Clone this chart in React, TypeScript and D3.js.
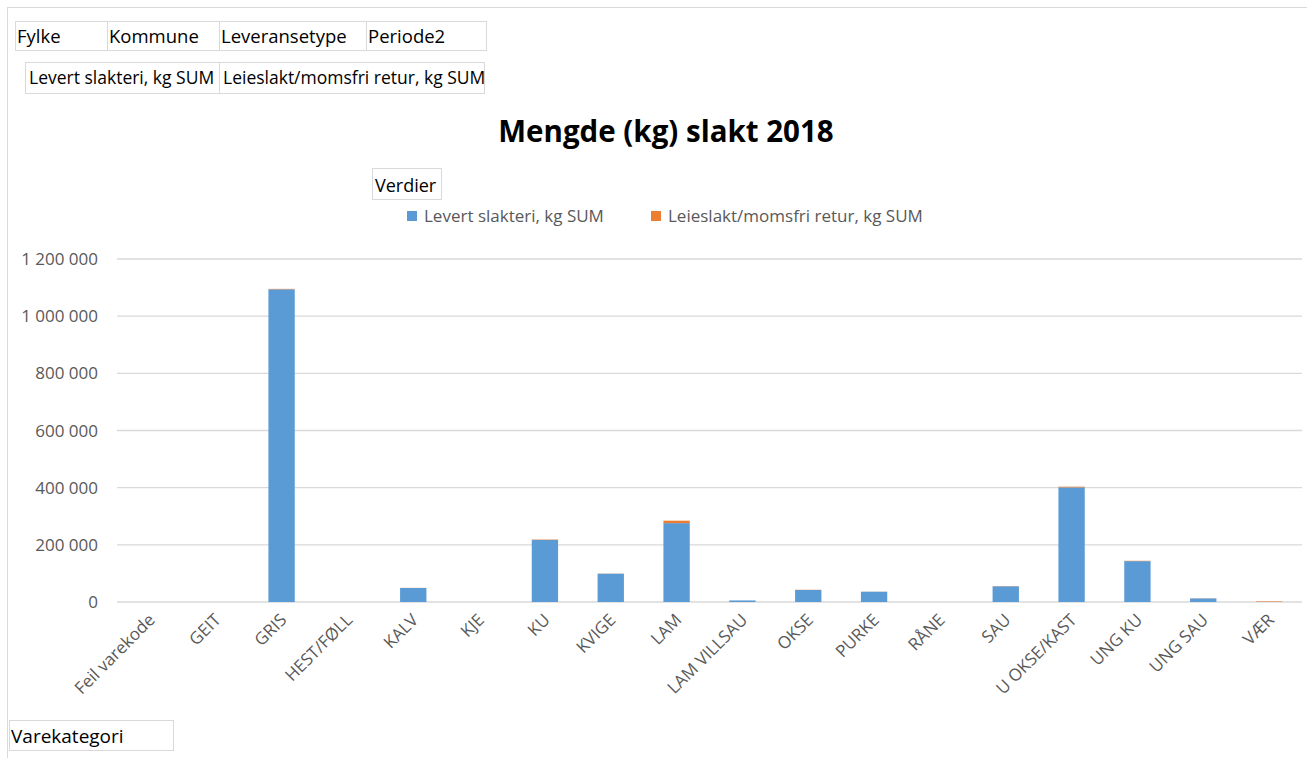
import React from "react";
import * as d3 from "d3";

// Product categories on the x axis
const categories = [
  "Feil varekode", "GEIT", "GRIS", "HEST/FØLL", "KALV", "KJE", "KU", "KVIGE", "LAM",
  "LAM VILLSAU", "OKSE", "PURKE", "RÅNE", "SAU", "U OKSE/KAST", "UNG KU", "UNG SAU", "VÆR",
];

// Delivered to slaughterhouse, kg
const levert = [
  0, 0, 1094000, 0, 49000, 0, 217000, 99000, 276000,
  5500, 42000, 36000, 0, 55000, 401000, 143000, 12500, 0,
];

// Contract slaughter / VAT-free return, kg
const leieslakt = [
  0, 0, 1500, 0, 500, 0, 1500, 500, 8500,
  0, 800, 300, 0, 800, 2500, 1200, 600, 1800,
];

const yTicks = [0, 200000, 400000, 600000, 800000, 1000000, 1200000];

const seriesNames = ["Levert slakteri, kg SUM", "Leieslakt/momsfri retur, kg SUM"];
const seriesColors = ["#5B9BD5", "#ED7D31"];

const filterFields = ["Fylke", "Kommune", "Leveransetype", "Periode2"];

const W = 1307;
const H = 758;
const FONT = "'Open Sans', 'Noto Sans', sans-serif";

export default function App() {
  const plot = { left: 117, right: 1302, top: 259, bottom: 602 };

  const x = d3.scaleBand<string>()
    .domain(categories)
    .range([plot.left, plot.right])
    .paddingInner(0.6)
    .paddingOuter(0.3);

  const y = d3.scaleLinear().domain([0, 1200000]).range([plot.bottom, plot.top]);

  const fmt = (v: number) => d3.format(",")(v).replace(/,/g, " ");

  const rows = categories.map((c, i) => ({ c, a: levert[i], b: leieslakt[i] }));
  const stack = d3.stack<{ c: string; a: number; b: number }>().keys(["a", "b"]);
  const layers = stack(rows as any);

  // field button edges
  const fieldX = [15, 107, 219, 366, 486];
  const valueX = [25, 219, 484];

  return (
    <svg
      width={W}
      height={H}
      style={{ position: "absolute", left: 0, top: 0, background: "#fff" }}
      fontFamily={FONT}
    >
      {/* chart area frame */}
      <rect x={7.5} y={7.5} width={W + 10} height={H + 10} fill="#fff" stroke="#d9d9d9" />

      {/* filter buttons */}
      {filterFields.map((f, i) => (
        <g key={f}>
          <rect x={fieldX[i] + 0.5} y={21.5} width={fieldX[i + 1] - fieldX[i]} height={29}
            fill="#fff" stroke="#d9d9d9" />
          <text x={fieldX[i] + 2} y={42.5} fontSize={18.5} fill="#000">{f}</text>
        </g>
      ))}
      {seriesNames.map((s, i) => (
        <g key={s}>
          <rect x={valueX[i] + 0.5} y={62.5} width={valueX[i + 1] - valueX[i]} height={31}
            fill="#fff" stroke="#d9d9d9" />
          <text x={valueX[i] + 4} y={84} fontSize={17.5} fill="#000">{s}</text>
        </g>
      ))}

      {/* title */}
      <text x={666} y={142} textAnchor="middle" fontSize={29.5} fontWeight="bold" fill="#000">
        Mengde (kg) slakt 2018
      </text>

      {/* values button */}
      <rect x={372.5} y={168.5} width={69} height={31} fill="#fff" stroke="#d9d9d9" />
      <text x={375} y={191.5} fontSize={18} fill="#000">Verdier</text>

      {/* legend */}
      {seriesNames.map((s, i) => {
        const lx = i === 0 ? 407 : 651;
        return (
          <g key={s}>
            <rect x={lx} y={211} width={10} height={10} fill={seriesColors[i]} />
            <text x={lx + 17} y={222} fontSize={17} fill="#595959">{s}</text>
          </g>
        );
      })}

      {/* gridlines and y labels */}
      {yTicks.map((t) => (
        <g key={t}>
          <line x1={plot.left} x2={plot.right} y1={y(t)} y2={y(t)} stroke="#d9d9d9" strokeWidth={1.3} />
          <text x={98} y={y(t) + 6} textAnchor="end" fontSize={17} fill="#595959">{fmt(t)}</text>
        </g>
      ))}

      {/* stacked bars */}
      {layers.map((layer, li) => (
        <g key={li} fill={seriesColors[li]}>
          {layer.map((d, i) => {
            const h = y(d[0]) - y(d[1]);
            if (h <= 0) return null;
            return (
              <rect key={i} x={x(categories[i])!} width={x.bandwidth()}
                y={y(d[1])} height={h} />
            );
          })}
        </g>
      ))}

      {/* x labels */}
      {categories.map((c) => {
        const cx = x(c)! + x.bandwidth() / 2;
        return (
          <text key={c} transform={`translate(${cx + 6},${621}) rotate(-45)`}
            textAnchor="end" fontSize={17} fill="#595959">{c}</text>
        );
      })}

      {/* axis field button */}
      <rect x={9.5} y={720.5} width={164} height={30} fill="#fff" stroke="#d9d9d9" />
      <text x={11} y={743} fontSize={19} fill="#000">Varekategori</text>
    </svg>
  );
}
